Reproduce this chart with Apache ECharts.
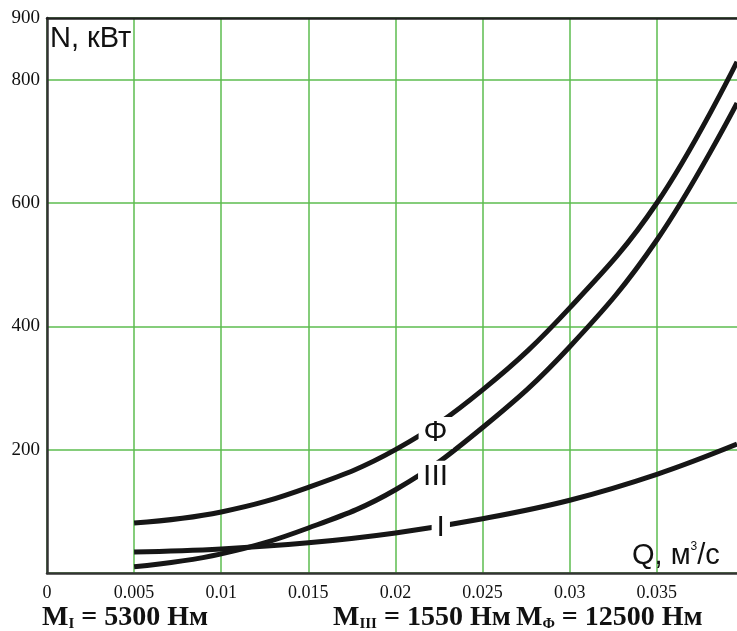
<!DOCTYPE html>
<html>
<head>
<meta charset="utf-8">
<script src="https://cdn.jsdelivr.net/npm/echarts@6/dist/echarts.min.js"></script>
<style>html,body{margin:0;padding:0;background:#fff}#c{width:737px;height:631px}</style>
</head>
<body>
<div id="c"></div>
<script>
var qValues = [0.005, 0.01, 0.015, 0.02, 0.025, 0.03, 0.035, 0.0396];
var seriesPhi = [81, 99, 139, 200, 297, 430, 600, 829];
var seriesIII = [10, 31, 73, 135, 236, 367, 540, 762];
var seriesI = [34, 39, 49, 65, 88, 118, 160, 209];
var curveNames = ['Φ', 'III', 'I'];
var labelQ = [0.0223, 0.0223, 0.0226];
var labelN = [227, 156, 73];
var xTicks = { min: 0, max: 0.0396, interval: 0.005 };
var yTicks = { min: 0, max: 900, interval: 200 };

function pairs(ys) { return qValues.map(function (q, i) { return [q, ys[i]]; }); }

var chart = echarts.init(document.getElementById('c'));
var lineStyle = { color: '#161616', width: 5 };
function lineSeries(name, ys) {
  return { name: name, type: 'line', data: pairs(ys), smooth: 0.4, symbol: 'none',
           lineStyle: lineStyle, z: 3, silent: true };
}
var subRich = { fontSize: 15, fontFamily: 'Liberation Serif', fontWeight: 'bold', fill: '#111', padding: [12, 0, 0, 0] };
chart.setOption({
  animation: false,
  grid: { left: 47, top: 18, right: 0, bottom: 58, containLabel: false },
  xAxis: [{
    type: 'value', min: xTicks.min, max: xTicks.max, interval: xTicks.interval,
    axisLine: { show: true, lineStyle: { color: '#333', width: 2.5 } },
    axisTick: { show: false },
    axisLabel: { showMaxLabel: false, margin: 11, color: '#111', fontFamily: 'Liberation Serif', fontSize: 18 },
    splitLine: { show: true, showMaxLine: false, lineStyle: { color: '#5cbd4f', width: 1.5 } }
  }, {
    type: 'value', position: 'top', min: xTicks.min, max: xTicks.max,
    axisLine: { show: true, onZero: false, lineStyle: { color: '#222', width: 2.5 } },
    axisTick: { show: false }, axisLabel: { show: false }, splitLine: { show: false }
  }],
  yAxis: {
    type: 'value', min: yTicks.min, max: yTicks.max, interval: yTicks.interval,
    axisLine: { show: true, lineStyle: { color: '#333', width: 2.5 } },
    axisTick: { show: false },
    axisLabel: { showMinLabel: false, margin: 7, color: '#111', fontFamily: 'Liberation Serif', fontSize: 19 },
    splitLine: { show: true, lineStyle: { color: '#5cbd4f', width: 1.5 } }
  },
  series: [
    lineSeries('Φ', seriesPhi),
    lineSeries('III', seriesIII),
    lineSeries('I', seriesI),
    {
      type: 'scatter', symbolSize: 0, z: 5, silent: true,
      itemStyle: { opacity: 1, color: '#111' },
      data: labelQ.map(function (q, i) { return { value: [q, labelN[i]], name: curveNames[i] }; }),
      label: {
        show: true, position: 'inside', formatter: '{b}', opacity: 1,
        color: '#111', fontFamily: 'Liberation Sans', fontSize: 30,
        backgroundColor: '#fff', padding: [2, 5, 0, 5]
      }
    }
  ],
  graphic: [
    { type: 'text', left: 50, top: 24, z: 10,
      style: { text: 'N, кВт', fontFamily: 'Liberation Sans', fontSize: 29, fill: '#111' } },
    { type: 'text', left: 632, top: 541, z: 10,
      style: { text: 'Q, м{s|3}/с', fontFamily: 'Liberation Sans', fontSize: 29, fill: '#111',
        rich: { s: { fontSize: 12, fontFamily: 'Liberation Sans', fill: '#111', verticalAlign: 'top', padding: [0, 0, 16, 0] } } } },
    { type: 'text', left: 42, top: 604, z: 10,
      style: { text: 'M{sub|I} = 5300 Нм', fontFamily: 'Liberation Serif', fontWeight: 'bold', fontSize: 28, fill: '#111', rich: { sub: subRich } } },
    { type: 'text', left: 333, top: 604, z: 10,
      style: { text: 'M{sub|III} = 1550 Нм', fontFamily: 'Liberation Serif', fontWeight: 'bold', fontSize: 28, fill: '#111', rich: { sub: subRich } } },
    { type: 'text', left: 516, top: 604, z: 10,
      style: { text: 'M{sub|Φ} = 12500 Нм', fontFamily: 'Liberation Serif', fontWeight: 'bold', fontSize: 28, fill: '#111', rich: { sub: subRich } } }
  ]
});
</script>
</body>
</html>
